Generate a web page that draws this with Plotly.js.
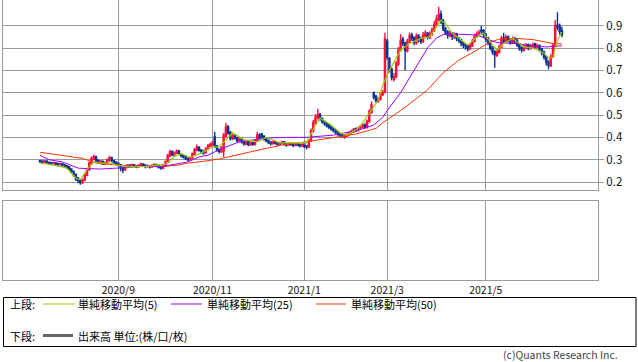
<!DOCTYPE html>
<html><head><meta charset="utf-8">
<script src="https://cdn.plot.ly/plotly-3.0.1.min.js"></script>
<style>html,body{margin:0;padding:0;background:#fff;}#chart{width:638px;height:362px;}</style>
</head><body><div id="chart"></div>
<script>
// month start positions (trading-day index) and labels
const monthIdx = [35, 77, 118, 155, 199];
const monthLabels = ['2020/9', '2020/11', '2021/1', '2021/3', '2021/5'];
const priceTicks = [0.2, 0.3, 0.4, 0.5, 0.6, 0.7, 0.8, 0.9];
const priceTickLabels = ['0.2', '0.3', '0.4', '0.5', '0.6', '0.7', '0.8', '0.9'];

const open = [
.295,.293,.288,.294,.289,.286,.282,.287,.283,.277,
.282,.278,.273,.268,.259,.248,.235,.218,.207,.196,
.208,.230,.255,.283,.303,.314,.298,.285,.293,.280,
.285,.296,.310,.297,.290,.284,.278,.265,.254,.266,
.276,.269,.278,.273,.267,.274,.281,.276,.268,.273,
.267,.273,.279,.273,.268,.261,.270,.292,.316,.338,
.320,.329,.340,.327,.320,.314,.306,.299,.306,.324,
.343,.357,.344,.339,.331,.346,.360,.366,.402,.362,
.346,.336,.340,.405,.448,.422,.393,.407,.399,.383,
.394,.382,.370,.380,.366,.377,.368,.384,.412,.415,
.404,.394,.387,.379,.371,.382,.377,.366,.373,.380,
.372,.365,.374,.369,.363,.372,.368,.361,.370,.363,
.355,.384,.428,.462,.488,.502,.484,.472,.464,.455,
.447,.440,.433,.424,.418,.412,.402,.404,.413,.421,
.426,.438,.431,.439,.447,.458,.444,.470,.512,.598,
.584,.562,.572,.592,.602,.830,.752,.705,.660,.672,
.728,.792,.838,.822,.788,.828,.858,.848,.822,.856,
.842,.828,.855,.868,.846,.862,.878,.902,.928,.952,
.922,.888,.872,.855,.868,.850,.862,.844,.838,.825,
.815,.808,.796,.810,.830,.850,.866,.880,.878,.862,
.845,.825,.803,.785,.768,.782,.805,.845,.828,.850,
.838,.824,.842,.834,.818,.802,.790,.803,.815,.798,
.805,.818,.804,.812,.796,.782,.762,.740,.720,.762,
.808,.902,.898,.878];
const high = [
.300,.297,.298,.296,.292,.290,.291,.289,.285,.286,
.284,.281,.276,.270,.262,.251,.238,.222,.212,.215,
.238,.264,.292,.314,.322,.318,.302,.298,.296,.292,
.305,.318,.312,.300,.293,.287,.280,.268,.274,.281,
.280,.282,.281,.276,.280,.286,.284,.279,.278,.276,
.279,.284,.282,.276,.271,.276,.296,.326,.345,.341,
.337,.346,.342,.330,.323,.318,.310,.314,.332,.352,
.368,.360,.348,.342,.356,.370,.376,.384,.425,.366,
.350,.360,.420,.465,.455,.428,.418,.412,.403,.400,
.398,.386,.385,.384,.382,.380,.392,.425,.418,.420,
.410,.398,.390,.382,.386,.386,.380,.380,.385,.383,
.376,.378,.377,.372,.376,.375,.371,.374,.373,.366,
.392,.440,.478,.505,.528,.510,.490,.476,.468,.460,
.452,.444,.436,.428,.421,.416,.412,.418,.426,.434,
.442,.444,.448,.455,.462,.462,.480,.526,.560,.605,
.590,.580,.602,.612,.868,.842,.760,.712,.688,.742,
.805,.862,.850,.828,.842,.870,.868,.852,.865,.862,
.850,.872,.880,.872,.874,.892,.922,.948,.985,.968,
.930,.895,.880,.878,.872,.870,.868,.850,.842,.830,
.822,.815,.822,.842,.865,.875,.882,.900,.885,.866,
.850,.830,.808,.790,.795,.815,.855,.868,.860,.856,
.845,.852,.850,.840,.822,.808,.815,.822,.820,.818,
.825,.824,.820,.816,.800,.788,.768,.745,.772,.822,
.925,.960,.910,.895];
const low = [
.286,.284,.285,.282,.279,.276,.280,.274,.270,.274,
.268,.265,.258,.250,.238,.224,.205,.194,.188,.192,
.204,.226,.250,.278,.298,.290,.282,.280,.276,.276,
.282,.292,.288,.280,.276,.268,.248,.240,.250,.262,
.264,.266,.266,.262,.264,.271,.268,.262,.265,.260,
.264,.270,.266,.260,.255,.258,.267,.288,.312,.315,
.316,.325,.320,.310,.305,.298,.294,.295,.303,.320,
.338,.335,.328,.322,.327,.342,.356,.360,.352,.336,
.328,.330,.312,.400,.412,.386,.388,.390,.378,.378,
.372,.362,.365,.360,.362,.362,.364,.380,.390,.396,
.385,.378,.370,.364,.368,.368,.360,.362,.369,.364,
.358,.362,.362,.356,.360,.360,.354,.358,.352,.346,
.352,.380,.422,.455,.480,.474,.462,.452,.444,.436,
.430,.422,.414,.406,.402,.398,.394,.400,.408,.416,
.420,.424,.426,.434,.442,.438,.440,.466,.506,.570,
.555,.555,.566,.585,.598,.748,.690,.655,.650,.665,
.720,.785,.808,.700,.780,.820,.832,.812,.815,.825,
.818,.822,.848,.838,.840,.855,.872,.895,.920,.908,
.875,.858,.842,.848,.836,.840,.830,.822,.808,.800,
.792,.785,.790,.805,.825,.845,.858,.865,.848,.828,
.812,.790,.770,.712,.760,.775,.800,.822,.822,.825,
.815,.818,.822,.805,.788,.780,.785,.796,.790,.792,
.798,.798,.798,.786,.768,.748,.722,.705,.715,.755,
.800,.880,.860,.848];
const close = [
.292,.289,.294,.288,.285,.283,.286,.280,.278,.281,
.276,.272,.266,.258,.246,.232,.214,.205,.198,.210,
.232,.258,.285,.305,.312,.296,.288,.292,.282,.286,
.298,.308,.296,.288,.282,.276,.262,.255,.268,.274,
.270,.276,.272,.268,.275,.280,.274,.270,.272,.268,
.274,.278,.272,.266,.262,.270,.290,.318,.335,.322,
.330,.338,.326,.318,.312,.305,.300,.308,.325,.345,
.355,.342,.335,.330,.348,.362,.368,.375,.360,.345,
.338,.352,.410,.445,.420,.395,.405,.398,.385,.392,
.380,.372,.378,.368,.375,.370,.385,.410,.398,.405,
.392,.386,.378,.372,.380,.375,.368,.374,.378,.370,
.366,.372,.368,.364,.370,.366,.362,.368,.360,.356,
.385,.430,.465,.490,.500,.482,.470,.462,.452,.445,
.438,.430,.422,.415,.410,.408,.405,.412,.420,.428,
.435,.430,.440,.448,.455,.445,.472,.515,.545,.580,
.565,.570,.595,.600,.840,.760,.700,.668,.672,.730,
.790,.835,.820,.790,.830,.855,.845,.825,.852,.840,
.830,.858,.865,.848,.862,.880,.905,.930,.950,.920,
.885,.870,.858,.866,.852,.860,.842,.835,.822,.812,
.805,.798,.812,.830,.852,.862,.870,.876,.860,.840,
.822,.800,.782,.770,.785,.805,.842,.830,.848,.835,
.826,.840,.832,.815,.800,.792,.805,.812,.800,.808,
.815,.806,.810,.795,.780,.760,.738,.722,.760,.810,
.900,.895,.875,.860];

// moving averages (bar index, value)
const ma5Idx = [0,8,12,16,18,21,24,27,31,34,39,48,57,60,63,67,71,77,80,86,91,97,101,107,116,119,123,125,130,134,137,142,144,147,151,153,156,161,165,170,174,179,181,184,191,195,198,204,207,211,216,220,225,227,229,231,233];
const ma5 = [0.285,0.272,0.262,0.218,0.21,0.255,0.29,0.285,0.285,0.277,0.268,0.27,0.282,0.315,0.327,0.31,0.325,0.357,0.357,0.42,0.39,0.38,0.40,0.375,0.375,0.375,0.455,0.486,0.455,0.42,0.41,0.44,0.465,0.51,0.567,0.634,0.70,0.79,0.82,0.843,0.85,0.925,0.91,0.866,0.813,0.85,0.866,0.79,0.82,0.843,0.805,0.80,0.777,0.755,0.76,0.836,0.872];
const ma25Idx = [0,4,10,17,27,33,39,45,55,66,71,75,80,89,101,110,119,131,142,149,153,155,161,167,173,177,181,195,200,204,213,220,226,233];
const ma25 = [0.32,0.30,0.29,0.262,0.258,0.26,0.265,0.27,0.27,0.29,0.312,0.32,0.345,0.38,0.397,0.40,0.40,0.41,0.432,0.455,0.49,0.52,0.60,0.70,0.80,0.845,0.865,0.858,0.84,0.824,0.82,0.808,0.805,0.81];
const ma50Idx = [0,10,19,25,34,45,55,62,66,71,80,94,108,119,131,141,150,153,161,167,173,180,187,195,200,205,213,220,226,229,233];
const ma50 = [0.333,0.32,0.306,0.285,0.276,0.27,0.27,0.276,0.285,0.29,0.303,0.335,0.366,0.38,0.40,0.415,0.44,0.465,0.52,0.567,0.612,0.69,0.746,0.79,0.822,0.84,0.843,0.838,0.828,0.82,0.818];

const legendTop = '上段:';
const legendBottom = '下段:';
const maLabels = ['単純移動平均(5)', '単純移動平均(25)', '単純移動平均(50)'];
const volumeLabel = '出来高 単位:(株/口/枚)';
const copyright = '(c)Quants Research Inc.';

const COL5 = '#99cc00', COL25 = '#9900ff', COL50 = '#ff3300';
const GRID = '#9a9a9a';
const FONT = '"Noto Sans CJK JP", "Noto Sans", sans-serif';

const barIdx = close.map((_, i) => i);

const traces = [
  { type: 'candlestick', x: barIdx, open: open, high: high, low: low, close: close,
    xaxis: 'x', yaxis: 'y', whiskerwidth: 0, hoverinfo: 'skip',
    increasing: { line: { color: '#ff0d3d', width: 1.4 }, fillcolor: '#ff0d3d' },
    decreasing: { line: { color: '#0a3296', width: 1.4 }, fillcolor: '#0a3296' } },
  { type: 'scatter', mode: 'lines', x: ma50Idx, y: ma50, line: { color: COL50, width: 1 }, hoverinfo: 'skip', xaxis: 'x', yaxis: 'y' },
  { type: 'scatter', mode: 'lines', x: ma25Idx, y: ma25, line: { color: COL25, width: 1 }, hoverinfo: 'skip', xaxis: 'x', yaxis: 'y' },
  { type: 'scatter', mode: 'lines', x: ma5Idx, y: ma5, line: { color: COL5, width: 1.2 }, hoverinfo: 'skip', xaxis: 'x', yaxis: 'y' },
  { type: 'scatter', mode: 'lines', x: [], y: [], xaxis: 'x2', yaxis: 'y2', hoverinfo: 'skip' }
];

// pixel -> paper helpers (plot area spans x 3..598, y 0..280)
const PX = x => (x - 3) / 595;
const PY = y => (280 - y) / 280;

const shapes = [
  { type: 'rect', xref: 'paper', yref: 'paper', x0: PX(3.5), x1: PX(636), y0: PY(346.5), y1: PY(297.5), line: { color: '#000', width: 1 }, fillcolor: 'rgba(0,0,0,0)' },
  { type: 'line', xref: 'paper', yref: 'paper', x0: PX(43), x1: PX(75), y0: PY(304), y1: PY(304), line: { color: COL5, width: 1 } },
  { type: 'line', xref: 'paper', yref: 'paper', x0: PX(171), x1: PX(202), y0: PY(304), y1: PY(304), line: { color: COL25, width: 1 } },
  { type: 'line', xref: 'paper', yref: 'paper', x0: PX(316), x1: PX(346), y0: PY(304), y1: PY(304), line: { color: COL50, width: 1 } },
  { type: 'line', xref: 'paper', yref: 'paper', x0: PX(43), x1: PX(73), y0: PY(335.5), y1: PY(335.5), line: { color: '#666', width: 3 } }
];

const ann = (text, x, y, anchor, color, size) => ({
  text: text, xref: 'paper', yref: 'paper', x: PX(x), y: PY(y), xanchor: anchor || 'left', yanchor: 'middle',
  showarrow: false, font: { family: FONT, size: size || 11, color: color || '#000' }, borderpad: 0
});

const annotations = [
  ann(legendTop, 9, 304), ann(maLabels[0], 77, 304), ann(maLabels[1], 206, 304), ann(maLabels[2], 350, 304),
  ann(legendBottom, 9, 335.5), ann(volumeLabel, 77, 335.5),
  ann(copyright, 619, 354.5, 'right', '#444', 10.5)
];

const layout = {
  width: 638, height: 362,
  margin: { l: 3, r: 40, t: 0, b: 82 },
  paper_bgcolor: '#fff', plot_bgcolor: '#fff',
  showlegend: false, hovermode: false,
  font: { family: FONT, size: 11, color: '#000' },
  xaxis: { domain: [0, 1], range: [-16.5, 249.1], tickmode: 'array', tickvals: monthIdx, showticklabels: false,
    showgrid: true, gridcolor: GRID, gridwidth: 1, zeroline: false, showline: true, linecolor: GRID, linewidth: 1,
    ticks: '', anchor: 'y', rangeslider: { visible: false }, fixedrange: true },
  yaxis: { domain: [1 - 190 / 280, 1], range: [0.1642, 1.0151], side: 'right', tickmode: 'array', tickvals: priceTicks, ticktext: priceTickLabels,
    showgrid: true, gridcolor: GRID, gridwidth: 1, zeroline: false, showline: true, mirror: true, linecolor: GRID, linewidth: 1,
    ticks: 'outside', ticklen: 5, tickcolor: GRID, tickfont: { family: FONT, size: 11.5, color: '#111' }, anchor: 'x', fixedrange: true },
  xaxis2: { domain: [0, 1], range: [-16.5, 249.1], tickmode: 'array', tickvals: monthIdx, ticktext: monthLabels,
    showgrid: true, gridcolor: GRID, gridwidth: 1, zeroline: false, showline: true, mirror: true, linecolor: GRID, linewidth: 1,
    ticks: '', ticklen: 0, anchor: 'y2', tickfont: { family: FONT, size: 10.5, color: '#111' }, fixedrange: true },
  yaxis2: { domain: [0, 79 / 280], range: [0, 1], showgrid: false, zeroline: false, showticklabels: false, ticks: '',
    showline: true, mirror: true, linecolor: GRID, linewidth: 1, anchor: 'x2', fixedrange: true },
  shapes: shapes,
  annotations: annotations
};

Plotly.newPlot('chart', traces, layout, { staticPlot: true, displayModeBar: false });
</script>
</body></html>
